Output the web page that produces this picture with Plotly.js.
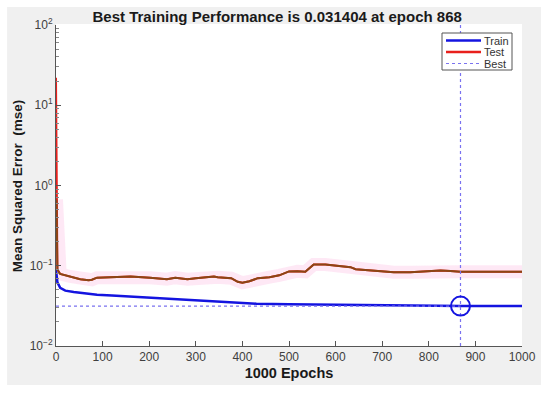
<!DOCTYPE html>
<html>
<head>
<meta charset="utf-8">
<script src="https://cdn.plot.ly/plotly-3.0.1.min.js"></script>
<style>
  html, body { margin: 0; padding: 0; background: #fff; }
  #chart { width: 550px; height: 393px; }
</style>
</head>
<body>
<div id="chart"></div>
<script>
// performance curves (mse, log scale)
const trainEpochs = [0, 3, 9, 20, 38, 60, 88, 120, 158, 202, 250, 300, 348, 400, 430, 500, 524, 600, 700, 800, 868, 1000];
const trainMse = [0.089, 0.062, 0.053, 0.049, 0.047, 0.045, 0.0435, 0.0425, 0.0413, 0.0395, 0.0382, 0.0368, 0.0352, 0.0342, 0.0337, 0.0331, 0.033, 0.0322, 0.0317, 0.0315, 0.031404, 0.0314];

const testEpochs = [0, 1, 3, 9, 30, 52, 70, 77, 88, 124, 160, 202, 238, 256, 282, 300, 318, 339, 347, 376, 390, 400, 415, 433, 458, 479, 500, 518, 535, 553, 578, 593, 607, 632, 643, 668, 700, 725, 760, 800, 825, 846, 868, 1000];
const testMse = [22, 0.67, 0.09, 0.079, 0.0735, 0.068, 0.066, 0.067, 0.071, 0.072, 0.0735, 0.071, 0.068, 0.071, 0.068, 0.070, 0.072, 0.0735, 0.072, 0.070, 0.063, 0.0615, 0.064, 0.070, 0.072, 0.076, 0.085, 0.0855, 0.084, 0.1035, 0.1035, 0.101, 0.098, 0.096, 0.0906, 0.088, 0.085, 0.083, 0.083, 0.085, 0.087, 0.086, 0.084, 0.084];

const bestEpoch = 868;
const bestPerf = 0.031404;
const yLimits = [0.01, 100];

const xTicks = [0, 100, 200, 300, 400, 500, 600, 700, 800, 900, 1000];
const yTicks = [0.01, 0.1, 1, 10, 100];
const yTickText = ['10<sup>\u22122</sup>', '10<sup>\u22121</sup>', '10<sup>0</sup>', '10<sup>1</sup>', '10<sup>2</sup>'];
const legendNames = ['Train', 'Test', 'Best'];

// log minor ticks 2..9 within each decade
const yMinorTicks = [];
yTicks.slice(0, -1).forEach(d => { for (let k = 2; k <= 9; k++) yMinorTicks.push(k * d); });

const BLUE = '#1414e0';
const RED = '#e8201c';
const BROWN = '#8a4615';
const BEST = '#7a72f0';

const traces = [
  // soft pink halo behind the test curve
  { x: testEpochs.slice(1), y: testMse.slice(1), mode: 'lines', showlegend: false,
    line: { color: 'rgba(253,224,242,0.75)', width: 13 }, hoverinfo: 'skip' },
  { x: trainEpochs, y: trainMse, mode: 'lines', name: 'Train',
    line: { color: BLUE, width: 2.5 } },
  { x: testEpochs, y: testMse, mode: 'lines', name: 'Test',
    line: { color: RED, width: 2 } },
  { x: testEpochs.slice(1), y: testMse.slice(1), mode: 'lines', showlegend: false,
    line: { color: BROWN, width: 2 } },
  { x: [bestEpoch, bestEpoch], y: yLimits, mode: 'lines', name: 'Best',
    line: { color: BEST, width: 1.2, dash: 'dot' } },
  { x: [0, bestEpoch], y: [bestPerf, bestPerf], mode: 'lines', showlegend: false,
    line: { color: BEST, width: 1.2, dash: 'dot' } },
  { x: [bestEpoch], y: [bestPerf], mode: 'markers', showlegend: false,
    marker: { symbol: 'circle-open', size: 19, color: BLUE, line: { width: 2, color: BLUE } } }
];

// MATLAB-style compact legend box (paper coords: px -> (px-56)/466, (346-py)/321)
const px = v => (v - 56) / 466;
const py = v => (346 - v) / 321;
const legendColors = [BLUE, RED, BEST];
const legendDash = ['solid', 'solid', 'dot'];
const legendWidth = [2.5, 2.5, 1.2];
const shapes = [
  { type: 'rect', xref: 'paper', yref: 'paper', x0: -0.105, x1: 1.0408, y0: -0.1215, y1: 1.056,
    fillcolor: '#f0f0f0', line: { width: 0 }, layer: 'below' },
  { type: 'rect', xref: 'paper', yref: 'paper', x0: 0, x1: 1, y0: 0, y1: 1.003,
    fillcolor: '#ffffff', line: { width: 0 }, layer: 'below' },
  { type: 'rect', xref: 'paper', yref: 'paper', x0: px(442), x1: px(512), y0: py(70), y1: py(33),
    fillcolor: '#ffffff', line: { width: 1, color: '#555' }, layer: 'above' }
];
const annotations = [
  { xref: 'paper', yref: 'paper', x: -0.082, y: 0.5, textangle: -90, showarrow: false,
    text: '<b>Mean Squared Error  (mse)</b>', font: { size: 13.5, color: '#1a1a1a' },
    xanchor: 'center', yanchor: 'middle' }
];
legendNames.forEach((name, i) => {
  const yc = 40.5 + i * 11.5;
  shapes.push({ type: 'line', xref: 'paper', yref: 'paper', x0: px(446), x1: px(481), y0: py(yc), y1: py(yc),
    line: { color: legendColors[i], width: legendWidth[i], dash: legendDash[i] }, layer: 'above' });
  annotations.push({ xref: 'paper', yref: 'paper', x: px(482), y: py(yc + 0.5), text: name, showarrow: false,
    xanchor: 'left', yanchor: 'middle', font: { size: 11, color: '#333' } });
});

const layout = {
  width: 550, height: 393,
  margin: { l: 56, r: 28, t: 25, b: 47 },
  paper_bgcolor: '#ffffff',
  plot_bgcolor: 'rgba(0,0,0,0)',
  showlegend: false,
  font: { family: 'Liberation Sans, Arial, sans-serif', size: 12, color: '#404040' },
  title: {
    text: '<b>Best Training Performance is 0.031404 at epoch 868</b>',
    font: { size: 15, color: '#1a1a1a' },
    xref: 'container', x: 0.504, yref: 'container', y: 0.957, yanchor: 'middle'
  },
  shapes: shapes,
  annotations: annotations,
  xaxis: {
    range: [0, 1000], tickvals: xTicks, ticks: 'inside', ticklen: 5, tickcolor: '#555',
    showline: true, linecolor: '#555', linewidth: 1, showgrid: false, zeroline: false,
    tickfont: { size: 12, color: '#404040' },
    title: { text: '<b>1000 Epochs</b>', font: { size: 14.5, color: '#1a1a1a' }, standoff: 4 }
  },
  yaxis: {
    type: 'log', range: [-2, 2], tickvals: yTicks, ticktext: yTickText,
    ticks: 'inside', ticklen: 5, tickcolor: '#555',
    minor: { tickmode: 'array', tickvals: yMinorTicks, ticks: 'inside', ticklen: 2.5, tickcolor: '#888', showgrid: false },
    showline: true, linecolor: '#555', linewidth: 1, showgrid: false, zeroline: false,
    tickfont: { size: 12, color: '#404040' }
  }
};

Plotly.newPlot('chart', traces, layout, { staticPlot: true, displayModeBar: false });
</script>
</body>
</html>
